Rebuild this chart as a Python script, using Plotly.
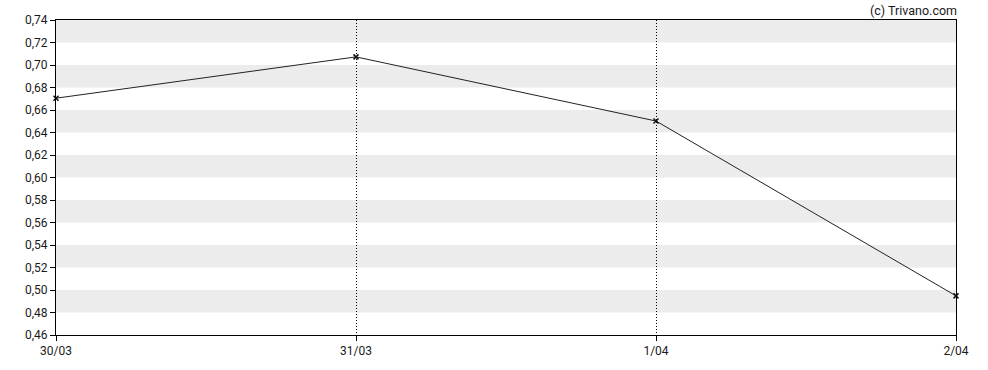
import plotly.graph_objects as go

dates = ["30/03", "31/03", "1/04", "2/04"]
values = [0.6705, 0.7072, 0.6502, 0.4948]
y_ticks = [0.46, 0.48, 0.50, 0.52, 0.54, 0.56, 0.58, 0.60, 0.62, 0.64, 0.66, 0.68, 0.70, 0.72, 0.74]
band_starts = [0.48, 0.52, 0.56, 0.60, 0.64, 0.68, 0.72]
band_step = 0.02

fig = go.Figure()
fig.add_trace(go.Scatter(
    x=dates, y=values, mode="lines+markers", cliponaxis=False,
    line=dict(color="#222222", width=1),
    marker=dict(symbol="x-thin", size=5, line=dict(color="#111111", width=1.5), color="#111111"),
    hoverinfo="skip", showlegend=False,
))

for b in band_starts:
    fig.add_shape(type="rect", xref="paper", yref="y", x0=0, x1=1, y0=b, y1=b + band_step,
                  fillcolor="#ececec", line=dict(width=0), layer="below")

fig.update_layout(
    width=988, height=370,
    margin=dict(l=56, r=32, t=20, b=35),
    paper_bgcolor="white", plot_bgcolor="white",
    font=dict(family="Roboto, Arial, sans-serif", size=12, color="#1a1a1a"),
    annotations=[dict(text="(c) Trivano.com", xref="paper", yref="paper", x=1, y=1,
                      xanchor="right", yanchor="bottom", xshift=3, yshift=0, showarrow=False,
                      font=dict(size=12.5, color="#1a1a1a"))],
)
fig.update_xaxes(
    type="category", range=[0, 3],
    showline=True, linecolor="black", linewidth=1, mirror=True,
    ticks="outside", ticklen=5, tickcolor="black",
    showgrid=True, gridcolor="black", gridwidth=1, griddash="1px,2px",
    zeroline=False,
)
fig.update_yaxes(
    range=[0.46, 0.74], tickvals=y_ticks,
    ticktext=[f"{v:.2f}".replace(".", ",") for v in y_ticks],
    showline=True, linecolor="black", linewidth=1, mirror=True,
    ticks="outside", ticklen=5, tickcolor="black",
    showgrid=False, zeroline=False,
)

fig.write_html("out.html")
